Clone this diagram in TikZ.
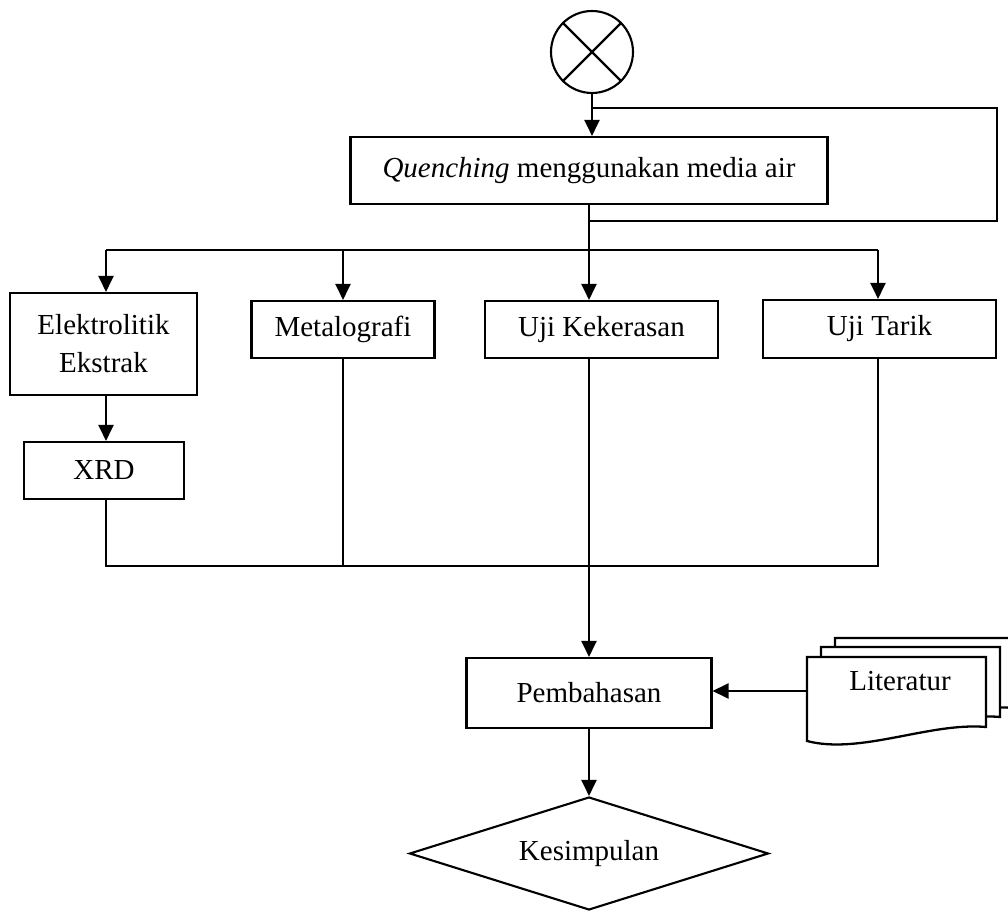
\documentclass[tikz,border=0pt]{standalone}
\usepackage{fontspec}
\setmainfont{Liberation Serif}
\usetikzlibrary{arrows.meta, shapes.geometric, positioning}
\tikzset{
    x=0.02cm, y=-0.02cm, % one unit is one pixel of the drawing
    every node/.style={font=\fontsize{16.5}{21.6}\selectfont}, % Times-like text
    box/.style={draw, line width=1.2pt, inner sep=0pt, align=center}, % plain process box
    pageref/.style={draw, circle, line width=1.2pt, inner sep=0pt, minimum size=1.64cm}, % off-page connector
    decision/.style={draw, diamond, line width=1.2pt, inner sep=0pt, aspect=3.18}, % end diamond
}
\tikzstyle{arrow} = [line width=1.3pt, -{Triangle[length=0.32cm, width=0.3cm]}]
\tikzstyle{line} = [line width=1.3pt]

\begin{document}
\begin{tikzpicture}
    \useasboundingbox (0,0) rectangle (1008,911);

    % connector and quenching
    \node[pageref] (circ) at (592,52) {};
    \draw[line] (circ.north west) -- (circ.south east) (circ.north east) -- (circ.south west);
    \node[box, minimum width=9.54cm, minimum height=1.34cm] (quench) at (589,170.5) {\textit{Quenching} menggunakan media air};

    % tests
    \node[box, minimum width=3.74cm, minimum height=2.04cm] (elek) at (103.5,344) {Elektrolitik\\Ekstrak};
    \node[box, minimum width=3.66cm, minimum height=1.14cm] (metal) at (343,329.5) {Metalografi};
    \node[box, minimum width=4.66cm, minimum height=1.14cm] (keras) at (601.5,329.5) {Uji Kekerasan};
    \node[box, minimum width=4.66cm, minimum height=1.16cm] (tarik) at (879.5,329) {Uji Tarik};
    \node[box, minimum width=3.2cm, minimum height=1.14cm] (xrd) at (104,470.5) {XRD};

    % discussion and conclusion
    \node[box, minimum width=4.9cm, minimum height=1.4cm] (bahas) at (589,693) {Pembahasan};
    \node[decision, minimum width=7.18cm, minimum height=2.26cm] (simpul) at (589,853.5) {Kesimpulan};

    % literature stack
    \foreach \dx/\dy in {28/-19, 14/-10, 0/0}
        \draw[line, fill=white, shift={(\dx,\dy)}] (807,657) -- (986,657) -- (986,727)
            .. controls (930,722) and (860,755) .. (807,741) -- cycle;
    \node (lit) at (900,681) {Literatur};
    \coordinate (litL) at (807,691);

    % helper points
    \coordinate (loopin) at (592,108);
    \coordinate (loopR) at (997,221);
    \coordinate (loopend) at (589,221);
    \coordinate (brL) at (106,250);
    \coordinate (brR) at (878,250);
    \coordinate (jn) at (106,566);

    % connectors
    \draw[arrow] (circ.south) -- (circ.south |- quench.north);
    \draw[line] (loopin) -| (loopR) -- (loopend);
    \draw[arrow] (quench.south) -- (quench.south |- keras.north);
    \draw[line] (brL) -- (brR);
    \draw[arrow] (brL) -- (brL |- elek.north);
    \draw[arrow] (metal.north |- brL) -- (metal.north);
    \draw[arrow] (brR) -- (brR |- tarik.north);
    \draw[arrow] (elek.south -| brL) -- (brL |- xrd.north);
    \draw[line] (xrd.south -| jn) -- (jn) -- (jn -| brR) -- (brR |- tarik.south);
    \draw[line] (metal.south) -- (metal.south |- jn);
    \draw[arrow] (quench.south |- keras.south) -- (quench.south |- bahas.north);
    \draw[arrow] (litL) -- (litL -| bahas.east);
    \draw[arrow] (bahas.south) -- (simpul.north);
\end{tikzpicture}
\end{document}
